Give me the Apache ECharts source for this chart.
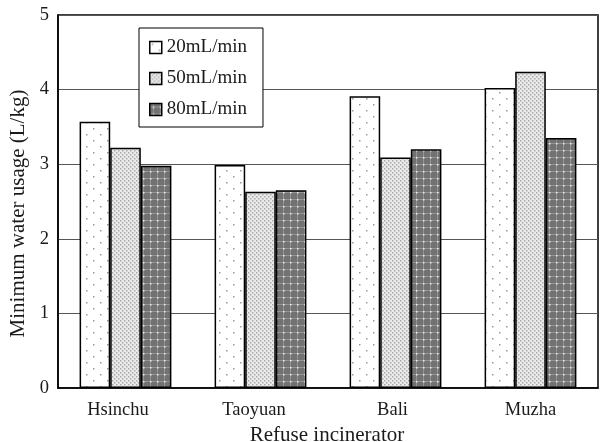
<!DOCTYPE html>
<html>
<head>
<meta charset="utf-8">
<script src="https://cdn.jsdelivr.net/npm/echarts@6/dist/echarts.min.js"></script>
<style>
  html, body { margin: 0; padding: 0; background: #fff; }
  #chart { width: 602px; height: 442px; }
</style>
</head>
<body>
<div id="chart"></div>
<script>
// Minimum water usage per refuse incinerator at three flow rates
const categories = ['Hsinchu', 'Taoyuan', 'Bali', 'Muzha'];
const flow20 = [3.57, 2.99, 3.91, 4.02];
const flow50 = [3.22, 2.63, 3.09, 4.24];
const flow80 = [2.98, 2.65, 3.20, 3.35];
const seriesNames = ['20mL/min', '50mL/min', '80mL/min'];
const yTicks = { min: 0, max: 5, step: 1 };

// small leftward nudges for the category labels (px of right padding)
const labelNudge = [15, 13, 6, 0];

// Hatch-like fills drawn on small canvases and tiled
function sparseDots() {
  const c = document.createElement('canvas');
  c.width = 14; c.height = 12;
  const g = c.getContext('2d');
  g.fillStyle = '#ffffff'; g.fillRect(0, 0, 14, 12);
  g.fillStyle = '#9a9a9a';
  g.fillRect(2, 2, 1.5, 1.5);
  g.fillRect(9, 8, 1.5, 1.5);
  return c;
}
function fineDots() {
  const c = document.createElement('canvas');
  c.width = 4; c.height = 4;
  const g = c.getContext('2d');
  g.fillStyle = '#eaeaea'; g.fillRect(0, 0, 4, 4);
  g.fillStyle = '#aaaaaa';
  g.fillRect(0, 0, 1.5, 1.5);
  g.fillRect(2, 2, 1.5, 1.5);
  return c;
}
function darkGrid() {
  const c = document.createElement('canvas');
  c.width = 7; c.height = 7;
  const g = c.getContext('2d');
  g.fillStyle = '#727272'; g.fillRect(0, 0, 7, 7);
  g.fillStyle = '#959595';
  g.fillRect(0, 3, 7, 1);
  g.fillRect(3, 0, 1, 7);
  g.fillStyle = '#ececec';
  g.fillRect(3, 3, 1.5, 1.5);
  return c;
}
const fills = [sparseDots(), fineDots(), darkGrid()];
const values = [flow20, flow50, flow80];

const serif = '"Liberation Serif", "Times New Roman", serif';
const chart = echarts.init(document.getElementById('chart'), null, { renderer: 'canvas' });

chart.setOption({
  animation: false,
  backgroundColor: '#ffffff',
  textStyle: { fontFamily: serif },
  grid: {
    left: 58, right: 4, top: 15, bottom: 54,
    outerBoundsMode: 'none',
    containLabel: false,
    show: true, borderColor: '#000', borderWidth: 1.5, backgroundColor: 'transparent'
  },
  legend: {
    left: 139, top: 28,
    orient: 'vertical',
    data: seriesNames,
    icon: 'rect',
    itemWidth: 12, itemHeight: 12,
    itemGap: 12,
    padding: [10, 16, 8, 10],
    backgroundColor: '#ffffff',
    borderColor: '#000',
    borderWidth: 1,
    textStyle: { fontFamily: serif, fontSize: 19, color: '#1a1a1a' },
    itemStyle: { borderColor: '#000', borderWidth: 1.5 }
  },
  xAxis: {
    type: 'category',
    data: categories.map((c, i) => ({
      value: c,
      textStyle: { padding: [0, labelNudge[i], 0, 0] }
    })),
    name: 'Refuse incinerator',
    nameLocation: 'middle',
    nameGap: 32,
    nameTextStyle: { fontFamily: serif, fontSize: 21, color: '#1a1a1a', padding: [0, 2, 0, 0] },
    axisLine: { lineStyle: { color: '#000', width: 1.5 } },
    axisTick: { inside: true, length: 5, lineStyle: { color: '#000', width: 1.2 } },
    axisLabel: { fontFamily: serif, fontSize: 18.5, color: '#1a1a1a', margin: 13 }
  },
  yAxis: {
    type: 'value',
    min: yTicks.min, max: yTicks.max, interval: yTicks.step,
    name: 'Minimum water usage (L/kg)',
    nameLocation: 'middle',
    nameGap: 20,
    nameTextStyle: { fontFamily: serif, fontSize: 21, color: '#1a1a1a', padding: [0, 24, 0, 0] },
    axisLine: { show: true, lineStyle: { color: '#000', width: 1.5 } },
    axisTick: { show: false },
    axisLabel: { fontFamily: serif, fontSize: 18.5, color: '#1a1a1a', margin: 9 },
    splitLine: { lineStyle: { color: '#555', width: 1 } }
  },
  series: seriesNames.map((name, i) => ({
    name,
    type: 'bar',
    data: values[i],
    barGap: '0%',
    barCategoryGap: '32%',
    itemStyle: {
      color: { image: fills[i], repeat: 'repeat' },
      borderColor: '#000',
      borderWidth: 1.5
    }
  }))
});
</script>
</body>
</html>
